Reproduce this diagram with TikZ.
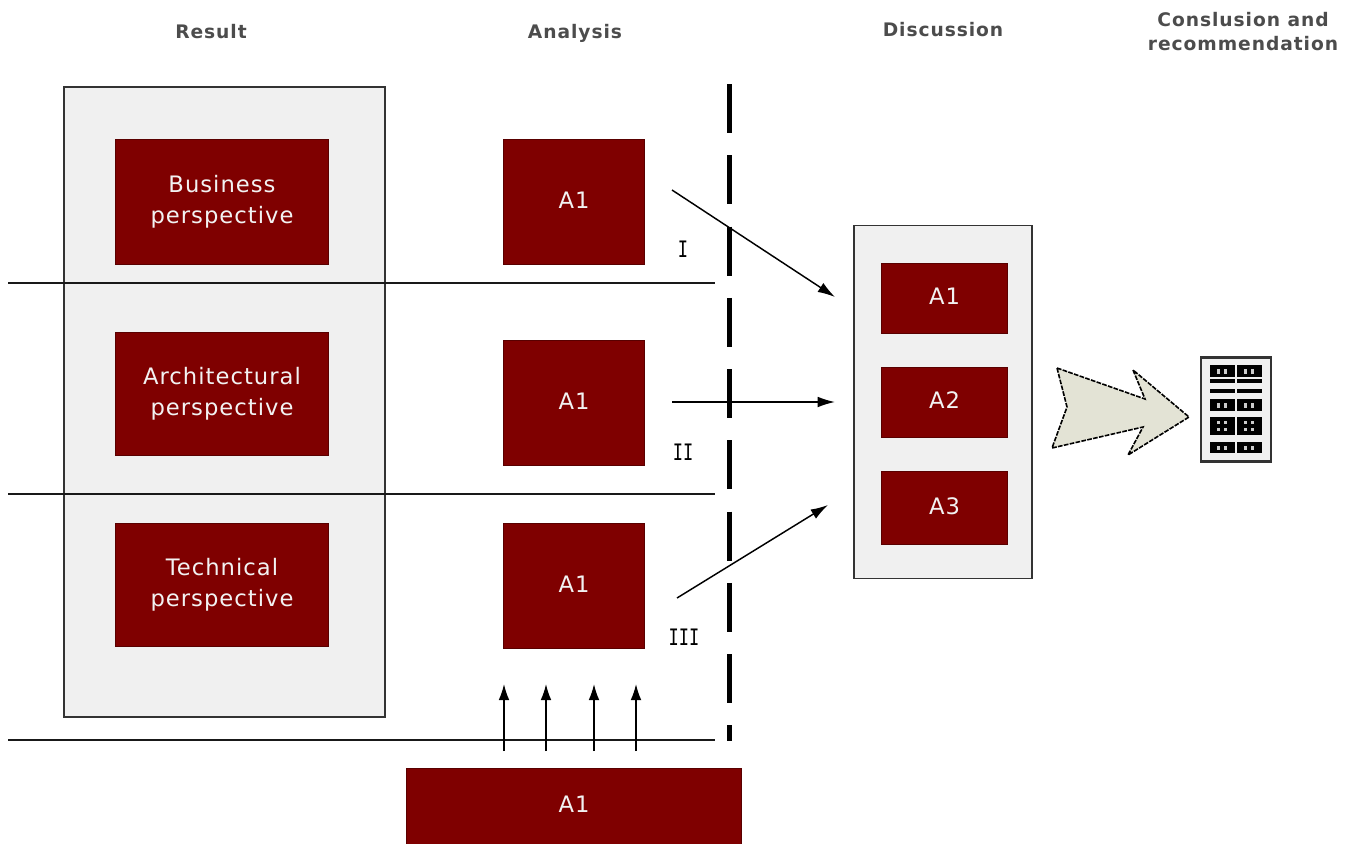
\documentclass[tikz,border=0pt]{standalone}
\usepackage{fontspec}
\setmainfont{DejaVu Sans}
\newfontfamily\boxfont[LetterSpace=4.5]{DejaVu Sans}
\newfontfamily\headfont[LetterSpace=5]{DejaVu Sans}
\newfontfamily\romfont{DejaVu Sans Mono}
\usetikzlibrary{arrows.meta}
\definecolor{maroon}{HTML}{7F0000}
\definecolor{panelgrey}{HTML}{F0F0F0}
\definecolor{arrowfill}{HTML}{E3E3D5}
\tikzset{
  x=0.75pt,y=-0.75pt,
  redbox/.style={fill=maroon,draw=maroon!70!black,line width=0.4pt,text=white!95!black,font=\boxfont\fontsize{17}{23}\selectfont,align=center,inner sep=0pt},
  panel/.style={draw=black!80,fill=panelgrey,line width=1pt,inner sep=0pt},
  head/.style={font=\headfont\bfseries\fontsize{14}{18}\selectfont,text=black!70,align=center,inner sep=0pt},
  rom/.style={font=\romfont\fontsize{17}{18}\selectfont,inner sep=0pt},
  sep/.style={line width=1.1pt,draw=black!90},
  conn/.style={line width=1.1pt,-{Latex[length=13pt,width=8pt]}},
  upconn/.style={line width=1.1pt,-{Latex[length=12pt,width=8pt]}},
}
\newcommand{\rbox}[6]{\node[redbox,minimum width=#3*0.75pt,minimum height=#4*0.75pt] (#5) at (#1,#2) {#6};}
\newcommand{\upt}[1]{\raisebox{2.5pt}{#1}}
\newcommand{\narrow}[1]{\scalebox{0.75}[1]{#1}}
\begin{document}
\begin{tikzpicture}
\useasboundingbox (0,0) rectangle (1351,843);
% panels
\node[panel,minimum width=321*0.75pt,minimum height=630*0.75pt] (left) at (224.5,402) {};
\node[panel,minimum width=178*0.75pt,minimum height=353*0.75pt] (right) at (943,402) {};
% left boxes
\rbox{222}{201.5}{213}{125}{biz}{Business\\perspective}
\rbox{222}{393.5}{213}{123}{arch}{Architectural\\perspective}
\rbox{222}{584.5}{213}{123}{tech}{Technical\\perspective}
% analysis boxes
\rbox{574}{201.5}{141}{125}{an1}{\upt{A1}}
\rbox{574}{402.5}{141}{125}{an2}{\upt{A1}}
\rbox{574}{585.5}{141}{125}{an3}{\upt{A1}}
% bottom box
\node[redbox,minimum width=335*0.75pt,minimum height=76*0.75pt,anchor=north] (bottom) at (574,768) {\upt{A1}};
% discussion boxes
\rbox{944.5}{298}{126}{70}{d1}{\upt{A1}}
\rbox{944.5}{402}{126}{70}{d2}{\upt{A2}}
\rbox{944.5}{507.5}{126}{73}{d3}{\upt{A3}}
% headers
\node[head] (h1) at (211,32) {Result};
\node[head] (h2) at (575,33) {Analysis};
\node[head] (h3) at (943,30) {Discussion};
\node[head] (h4) at (1243,32) {Conslusion and\\recommendation};
% separators
\coordinate (s1a) at (8,283); \coordinate (s1b) at (715,283);
\coordinate (s2a) at (8,494); \coordinate (s2b) at (715,494);
\coordinate (s3a) at (8,740); \coordinate (s3b) at (715,740);
\draw[sep] (s1a) -- (s1b);
\draw[sep] (s2a) -- (s2b);
\draw[sep] (s3a) -- (s3b);
% dashed divider
\coordinate (da) at (729.5,84); \coordinate (db) at (729.5,741);
\draw[line width=3.2pt,dash pattern=on 36.75pt off 16.7pt] (da) -- (db);
% roman labels
\node[rom] (r1) at (683,249) {\narrow{I}};
\node[rom] (r2) at (683,452) {\narrow{II}};
\node[rom] (r3) at (684,637) {\narrow{III}};
% connectors
\coordinate (c1a) at (672,190); \coordinate (c1b) at (835,297);
\coordinate (c2a) at (672,402); \coordinate (c2b) at (835,402);
\coordinate (c3a) at (677,598); \coordinate (c3b) at (828,505);
\draw[conn] (c1a) -- (c1b);
\draw[conn] (c2a) -- (c2b);
\draw[conn] (c3a) -- (c3b);
% upward arrows
\foreach \n/\x in {a/504,b/546,c/594,d/636}{
  \coordinate (u\n a) at (\x,751); \coordinate (u\n b) at (\x,684);
  \draw[upconn] (u\n a) -- (u\n b);
}
% big arrow
\draw[fill=arrowfill,line width=1.2pt,dash pattern=on 3.5pt off 1pt]
  (1057,368) -- (1145,399) -- (1133,370) -- (1189,417) -- (1128,455) -- (1143,427) -- (1052,448) -- (1067,407) -- cycle;
% document icon
\node[draw=black!80,fill=panelgrey,line width=1.8pt,minimum width=70*0.75pt,minimum height=104*0.75pt,inner sep=0pt] (doc) at (1236,409.5) {};
\foreach \x in {1210,1237}{
  \fill (\x,365) rectangle ++(25,12);
  \fill (\x,379) rectangle ++(25,4);
  \fill (\x,389) rectangle ++(25,4);
  \fill (\x,399) rectangle ++(25,12);
  \fill (\x,417) rectangle ++(25,18);
  \fill (\x,442) rectangle ++(25,11);
  \foreach \dx in {7,14}{
    \fill[white!80!black] (\x+\dx,369) rectangle ++(3,5);
    \fill[white!80!black] (\x+\dx,403) rectangle ++(3,5);
    \fill[white!80!black] (\x+\dx,421) rectangle ++(3,3);
    \fill[white!80!black] (\x+\dx,428) rectangle ++(3,3);
    \fill[white!80!black] (\x+\dx,446) rectangle ++(3,4);
  }
}
\end{tikzpicture}
\end{document}
